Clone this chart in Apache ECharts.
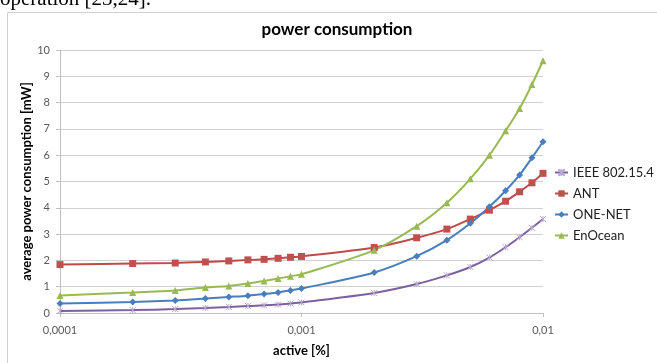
<!DOCTYPE html>
<html>
<head>
<meta charset="utf-8">
<script src="https://cdn.jsdelivr.net/npm/echarts@6/dist/echarts.min.js"></script>
<style>
html,body{margin:0;padding:0;background:#fff;}
#c{width:657px;height:363px;}
</style>
</head>
<body>
<div id="c"></div>
<script>
const xValues = [0.0001,0.0002,0.0003,0.0004,0.0005,0.0006,0.0007,0.0008,0.0009,0.001,0.002,0.003,0.004,0.005,0.006,0.007,0.008,0.009,0.01];
const ieee = [0.08,0.11,0.15,0.19,0.23,0.27,0.29,0.32,0.36,0.40,0.76,1.10,1.43,1.75,2.11,2.50,2.88,3.24,3.57];
const ant = [1.84,1.88,1.90,1.94,1.98,2.02,2.04,2.08,2.12,2.15,2.49,2.86,3.19,3.57,3.91,4.25,4.61,4.95,5.31];
const oneNet = [0.36,0.42,0.48,0.55,0.61,0.66,0.72,0.78,0.86,0.93,1.54,2.16,2.77,3.41,4.04,4.65,5.25,5.90,6.51];
const enOcean = [0.67,0.78,0.86,0.97,1.03,1.12,1.22,1.31,1.40,1.47,2.39,3.30,4.19,5.10,6.00,6.93,7.78,8.69,9.59];
const seriesNames = ['IEEE 802.15.4','ANT','ONE-NET','EnOcean'];
const titleText = 'power consumption';
const xName = 'active [%]';
const yName = 'average power consumption [mW]';
const captionText = 'operation [23,24].';

function pairs(ys){ return xValues.map((x,i)=>[x, ys[i]]); }

const chart = echarts.init(document.getElementById('c'), null, {renderer:'canvas'});
const font = 'Lato, "Open Sans", sans-serif';
const xPath = 'path://M0,0L10,10M10,0L0,10M5,0L5,10';

chart.setOption({
  animation:false,
  backgroundColor:'#ffffff',
  textStyle:{fontFamily:font},
  graphic:[
    {type:'rect', shape:{x:7.5,y:12.5,width:700,height:400}, style:{fill:'none',stroke:'#d0d0d0',lineWidth:1}, silent:true},
    {type:'text', left:0, top:-11, style:{text:captionText, font:'21px "Liberation Serif", serif', fill:'#000'}}
  ],
  title:{text:titleText, left:332, top:16, textAlign:'center',
    textStyle:{fontFamily:font, fontSize:17, fontWeight:'bold', color:'#000'}},
  legend:{orient:'vertical', left:554, top:166, padding:0, itemGap:8, itemWidth:13, itemHeight:8,
    textStyle:{fontFamily:font, fontSize:13, color:'#222'},
    data:seriesNames},
  grid:{left:60, right:114, top:50, bottom:50},
  xAxis:{type:'log', logBase:10, min:0.0001, max:0.01,
    name:xName, nameLocation:'middle', nameGap:31, nameMoveOverlap:false,
    nameTextStyle:{fontFamily:font, fontSize:13, fontWeight:'bold', color:'#000'},
    axisLine:{lineStyle:{color:'#bfbfbf'}},
    axisTick:{show:true, length:4, lineStyle:{color:'#bfbfbf'}},
    minorTick:{show:false},
    splitLine:{show:false},
    axisLabel:{fontFamily:font, fontSize:11, color:'#595959', margin:12,
      formatter:function(v){ const e=Math.round(Math.log10(v)); return '0,' + '0'.repeat(-e-1) + '1'; }}
  },
  yAxis:{type:'value', min:0, max:10, interval:1,
    name:yName, nameLocation:'middle', nameGap:27, nameRotate:90, nameMoveOverlap:false,
    nameTextStyle:{fontFamily:font, fontSize:13, fontWeight:'bold', color:'#000'},
    axisLine:{show:true, lineStyle:{color:'#bfbfbf'}},
    axisTick:{show:true, length:4, lineStyle:{color:'#bfbfbf'}},
    splitLine:{lineStyle:{color:'#d0d0d0'}},
    axisLabel:{fontFamily:font, fontSize:11, color:'#595959', margin:10}
  },
  series:[
    {name:seriesNames[0], type:'line', data:pairs(ieee), smooth:0.3, symbol:xPath, symbolSize:6,
      lineStyle:{color:'#7D60A0', width:2}, itemStyle:{color:'#b9a8d0', borderColor:'#b9a8d0', borderWidth:1}},
    {name:seriesNames[1], type:'line', data:pairs(ant), smooth:0.3, symbol:'rect', symbolSize:7,
      lineStyle:{color:'#BE4B48', width:2}, itemStyle:{color:'#C0504D'}},
    {name:seriesNames[2], type:'line', data:pairs(oneNet), smooth:0.3, symbol:'diamond', symbolSize:7,
      lineStyle:{color:'#4A7EBB', width:2}, itemStyle:{color:'#4A7EBB'}},
    {name:seriesNames[3], type:'line', data:pairs(enOcean), smooth:0.3, symbol:'triangle', symbolSize:7,
      lineStyle:{color:'#98B954', width:2}, itemStyle:{color:'#98B954'}}
  ]
});
</script>
</body>
</html>
